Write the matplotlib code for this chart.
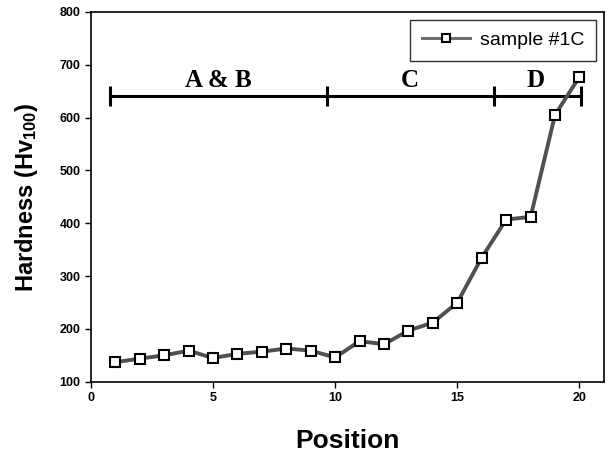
import matplotlib
matplotlib.use("Agg")
from matplotlib import pyplot as plt

position = list(range(1, 21))
hardness = [137, 144, 150, 159, 145, 153, 157, 163, 159, 146,
            177, 171, 197, 212, 250, 335, 407, 412, 605, 677]

region_bounds = [0.8, 9.65, 16.5, 20.05]
region_names = ['A & B', 'C', 'D']
region_level = 640


def data_plot():
    plt.rcParams['font.family'] = ['Liberation Sans', 'DejaVu Sans']
    plt.rcParams['mathtext.default'] = 'regular'
    fig = plt.figure(figsize=(6.1, 4.54), dpi=100)
    ax = fig.add_axes([0.149, 0.159, 0.841, 0.815])

    ax.plot(position, hardness, color='#505050', lw=2.8, marker='s', ms=7,
            mfc='white', mec='black', mew=1.5, label='sample #1C', zorder=3)

    # region bar with end ticks
    ax.plot([region_bounds[0], region_bounds[-1]], [region_level] * 2,
            color='black', lw=2.2, zorder=2)
    ax.plot(region_bounds, [region_level] * len(region_bounds), ls='none',
            marker='|', ms=14, mew=2.2, color='black', zorder=2)
    for i, name in enumerate(region_names):
        mid = (region_bounds[i] + region_bounds[i + 1]) / 2
        if name == 'D':
            mid = 18.2
        ax.text(mid, region_level + 8, name, ha='center', va='bottom',
                fontsize=18, fontweight='bold', family='Liberation Serif')

    ax.set_xlim(0, 21)
    ax.set_ylim(100, 800)
    ax.set_xticks([0, 5, 10, 15, 20])
    ax.set_yticks(range(100, 801, 100))
    ax.tick_params(direction='out', length=4, width=1, labelsize=9)
    for lab in ax.get_xticklabels() + ax.get_yticklabels():
        lab.set_fontweight('bold')
    for s in ax.spines.values():
        s.set_linewidth(1.2)

    ax.set_xlabel('Position', fontsize=19, fontweight='bold', labelpad=18)
    ax.set_ylabel('Hardness (Hv$_{100}$)', fontsize=17, fontweight='bold', labelpad=14)

    leg = ax.legend(loc='upper right', fontsize=14, frameon=True, fancybox=False,
                    edgecolor='black', handlelength=2.5, handletextpad=0.5,
                    borderpad=0.6, borderaxespad=0.4, markerscale=0.85)
    leg.get_frame().set_linewidth(1.0)
    leg.get_lines()[0].set_color('#707070')
    leg.get_lines()[0].set_linewidth(2.2)

    fig.savefig('out.png', dpi=100)


if __name__ == '__main__':
    data_plot()
